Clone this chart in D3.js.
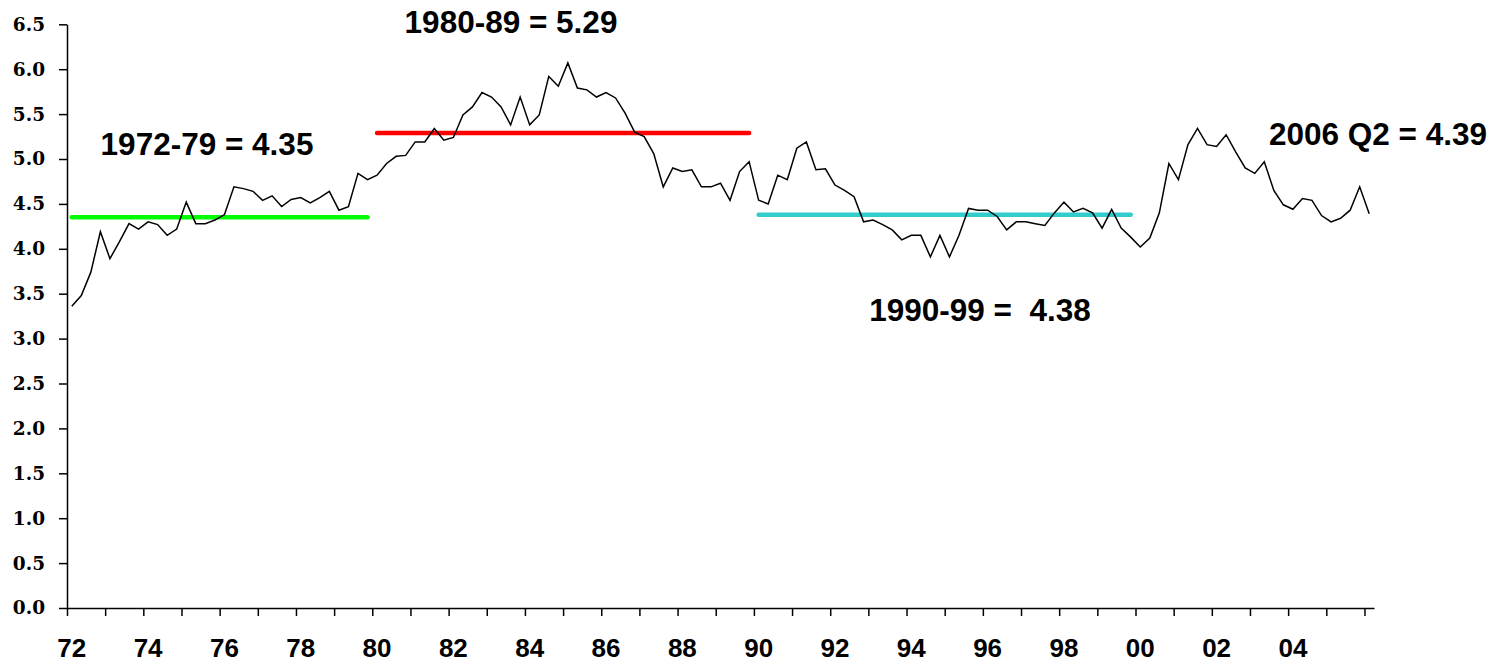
<!DOCTYPE html>
<html><head><meta charset="utf-8">
<script src="https://cdn.jsdelivr.net/npm/d3@7/dist/d3.min.js"></script>
<style>html,body{margin:0;padding:0;background:#fff;}svg{display:block;}</style>
</head><body>
<svg id="chart" width="1495" height="663"></svg>
<script>
// Quarterly values, 1972 Q1 onward
const values = [
3.36,3.48,3.74,4.19,3.89,4.08,4.28,4.22,4.30,4.27,4.15,4.22,4.52,4.28,4.28,4.32,
4.38,4.69,4.67,4.64,4.54,4.59,4.47,4.55,4.57,4.51,4.57,4.64,4.43,4.47,4.84,4.77,
4.82,4.95,5.03,5.04,5.19,5.19,5.34,5.21,5.24,5.49,5.58,5.74,5.69,5.58,5.38,5.69,
5.38,5.49,5.92,5.81,6.07,5.79,5.77,5.69,5.74,5.68,5.51,5.30,5.25,5.06,4.69,4.90,
4.86,4.88,4.69,4.69,4.73,4.54,4.86,4.97,4.54,4.50,4.82,4.77,5.12,5.19,4.88,4.89,
4.71,4.65,4.58,4.30,4.32,4.27,4.21,4.10,4.15,4.15,3.91,4.15,3.91,4.15,4.45,4.43,
4.43,4.36,4.21,4.30,4.30,4.28,4.26,4.40,4.52,4.41,4.45,4.40,4.23,4.44,4.23,4.13,
4.02,4.12,4.40,4.95,4.77,5.16,5.34,5.16,5.14,5.27,5.08,4.90,4.84,4.97,4.65,4.49,
4.44,4.56,4.54,4.37,4.30,4.34,4.43,4.69,4.39
];
const categories = values.map((v, i) => (1972 + Math.floor(i / 4)) + " Q" + (i % 4 + 1));
const xTickLabels = ["72","74","76","78","80","82","84","86","88","90","92","94","96","98","00","02","04"];
const yTickValues = [0,0.5,1,1.5,2,2.5,3,3.5,4,4.5,5,5.5,6,6.5];

// Period averages
const avgLabels = ["1972-79 = 4.35", "1980-89 = 5.29", "1990-99 =  4.38"];
const avgValues = [4.35, 5.29, 4.38];
const avgFrom = ["1972 Q1", "1980 Q1", "1990 Q1"];
const avgTo = ["1979 Q4", "1989 Q4", "1999 Q4"];
const avgColors = ["#00ff00", "#ff0000", "#33cccc"];
const lastLabel = "2006 Q2 = 4.39";

const svg = d3.select("#chart");
const mLeft = 67, mRight = 1374, mTop = 24.3, mBottom = 608;

const x = d3.scaleBand().domain(categories).range([mLeft, mRight]).padding(0);
const bw = x.bandwidth();
const xc = c => x(c) + bw / 2;
const xi = d3.scaleLinear().domain([0, categories.length]).range([mLeft, mRight]);
const y = d3.scaleLinear().domain([0, 6.5]).range([mBottom, mTop]);

// Y axis
const yAxis = svg.append("g").attr("transform", `translate(${mLeft},0)`)
  .call(d3.axisLeft(y).tickValues(yTickValues).tickSize(8).tickSizeOuter(0).tickPadding(14).tickFormat(d3.format(".1f")));
yAxis.selectAll("path,line").attr("stroke", "#000").attr("stroke-width", 1.5);
yAxis.selectAll("text").attr("font-family", "'DejaVu Serif', serif").attr("font-weight", "bold")
  .attr("font-size", 18.5).attr("fill", "#000");

// X axis (ticks every 4 quarters at category boundaries)
const tickIdx = d3.range(0, categories.length, 4);
const xAxis = svg.append("g").attr("transform", `translate(0,${mBottom})`)
  .call(d3.axisBottom(xi).tickValues(tickIdx).tickSize(8).tickSizeOuter(0).tickFormat(""));
xAxis.selectAll("path,line").attr("stroke", "#000").attr("stroke-width", 1.5);

// X labels at first quarter of every second year
svg.append("g").selectAll("text").data(xTickLabels).join("text")
  .attr("x", (d, i) => xc(categories[i * 8]))
  .attr("y", 657)
  .attr("text-anchor", "middle")
  .attr("font-family", "'Liberation Sans', Arial, sans-serif")
  .attr("font-weight", "bold").attr("font-size", 26).attr("fill", "#000")
  .text(d => d);

// Average lines
svg.append("g").selectAll("line").data(avgValues).join("line")
  .attr("x1", (d, i) => xc(avgFrom[i]))
  .attr("x2", (d, i) => xc(avgTo[i]))
  .attr("y1", d => y(d)).attr("y2", d => y(d))
  .attr("stroke", (d, i) => avgColors[i])
  .attr("stroke-width", 4.5).attr("stroke-linecap", "round");

// Data line
svg.append("path").datum(values)
  .attr("fill", "none").attr("stroke", "#000").attr("stroke-width", 1.5)
  .attr("stroke-linejoin", "miter")
  .attr("d", d3.line().x((d, i) => xc(categories[i])).y(d => y(d)));

// Annotations
const annX = [207, 511, 980, 1378];
const annY = [155, 33, 321, 145];
const annText = avgLabels.concat([lastLabel]);
svg.append("g").selectAll("text").data(annText).join("text")
  .attr("x", (d, i) => annX[i]).attr("y", (d, i) => annY[i])
  .attr("text-anchor", "middle").attr("xml:space", "preserve")
  .style("white-space", "pre")
  .attr("font-family", "'Liberation Sans', Arial, sans-serif")
  .attr("font-weight", "bold").attr("font-size", 31.5).attr("fill", "#000")
  .text(d => d);
</script>
</body></html>
